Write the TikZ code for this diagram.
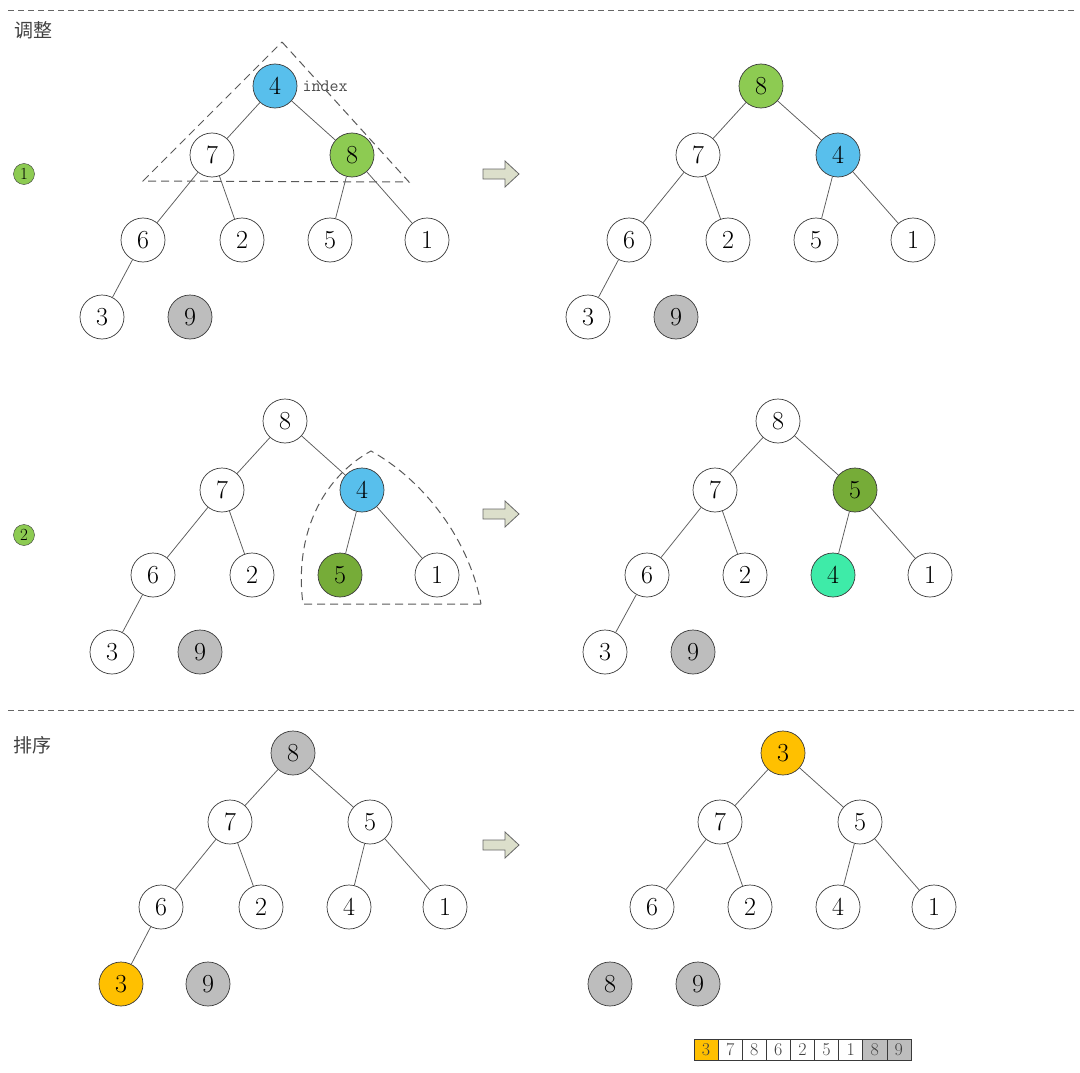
\documentclass[tikz,border=0pt]{standalone}
\usepackage{fontspec}
\newfontfamily\cjk{Noto Sans CJK SC}
\begin{document}
\definecolor{skyb}{HTML}{58BFEC}
\definecolor{lgreen}{HTML}{8DCB52}
\definecolor{dgreen}{HTML}{76AC38}
\definecolor{aqua}{HTML}{3EEBA8}
\definecolor{sgray}{HTML}{BDBDBD}
\definecolor{amber}{HTML}{FFC000}
\definecolor{arrowfill}{HTML}{DCDFCB}
\definecolor{rim}{HTML}{3A3A3A}
\definecolor{linkc}{HTML}{5A5A5A}
\begin{tikzpicture}[x=1pt,y=-1pt,
  nd/.style={circle,draw=rim,line width=0.7pt,fill=white,minimum size=44pt,inner sep=0pt,font=\fontsize{26}{26}\selectfont},
  blue/.style={fill=skyb},
  lg/.style={fill=lgreen},
  dg/.style={fill=dgreen},
  aq/.style={fill=aqua},
  gr/.style={fill=sgray},
  am/.style={fill=amber},
  link/.style={draw=linkc,line width=0.75pt},
  sep/.style={draw=gray!80!black,dashed,dash pattern=on 6pt off 4pt,line width=0.8pt},
  frame/.style={draw=gray!70!black,dash pattern=on 8pt off 5pt,line width=1pt},
  stepmark/.style={circle,draw=rim,fill=lgreen,minimum size=21pt,inner sep=0pt,font=\fontsize{17}{17}\selectfont},
  cjklabel/.style={font=\cjk\fontsize{19}{19}\selectfont,text=black!75},
  cell/.style={draw=rim,line width=0.6pt,minimum width=24.1pt,minimum height=21pt,inner sep=0pt,font=\fontsize{18}{18}\selectfont,text=black!75},
  bigarrow/.style={draw=gray!80!black,fill=arrowfill,line width=0.8pt,line join=miter}
]
\useasboundingbox (0,0) rectangle (1080,1073);

% separators
\draw[sep] (8,10) -- (1075,10);
\draw[sep] (8,710) -- (1075,710);

% labels
\node[cjklabel] (lab1) at (33,30) {调整};
\node[cjklabel] (lab2) at (32,745) {排序};
\node[stepmark] (s1) at (24,174) {1};
\node[stepmark] (s2) at (24,535) {2};

% ---------- step 1, before ----------
\draw[frame] (282,42) -- (409,182) -- (143,181) -- cycle;
\node[nd,blue] (a4) at (275,86) {4};
\node[nd] (a7) at (212,155) {7};
\node[nd,lg] (a8) at (352,155) {8};
\node[nd] (a6) at (143,240) {6};
\node[nd] (a2) at (242,240) {2};
\node[nd] (a5) at (330,240) {5};
\node[nd] (a1) at (427,240) {1};
\node[nd] (a3) at (102,317) {3};
\node[nd,gr] (a9) at (190,317) {9};
\node[anchor=west,font=\ttfamily\fontsize{17.5}{17.5}\selectfont,text=black!70] (idx) at (299,86) {index};
\draw[link] (a4) -- (a7) (a4) -- (a8) (a7) -- (a6) (a7) -- (a2) (a8) -- (a5) (a8) -- (a1) (a6) -- (a3);

% ---------- step 1, after ----------
\node[nd,lg] (b8) at (761,86) {8};
\node[nd] (b7) at (698,155) {7};
\node[nd,blue] (b4) at (838,155) {4};
\node[nd] (b6) at (629,240) {6};
\node[nd] (b2) at (728,240) {2};
\node[nd] (b5) at (816,240) {5};
\node[nd] (b1) at (913,240) {1};
\node[nd] (b3) at (588,317) {3};
\node[nd,gr] (b9) at (676,317) {9};
\draw[link] (b8) -- (b7) (b8) -- (b4) (b7) -- (b6) (b7) -- (b2) (b4) -- (b5) (b4) -- (b1) (b6) -- (b3);

% ---------- step 2, before ----------
\draw[frame] (481,604) -- (303,604) .. controls (294,535) and (322,478) .. (371,451)
  .. controls (420,478) and (468,535) .. (481,604);
\node[nd] (c8) at (285,421) {8};
\node[nd] (c7) at (222,490) {7};
\node[nd,blue] (c4) at (362,490) {4};
\node[nd] (c6) at (153,575) {6};
\node[nd] (c2) at (252,575) {2};
\node[nd,dg] (c5) at (340,575) {5};
\node[nd] (c1) at (437,575) {1};
\node[nd] (c3) at (112,652) {3};
\node[nd,gr] (c9) at (200,652) {9};
\draw[link] (c8) -- (c7) (c8) -- (c4) (c7) -- (c6) (c7) -- (c2) (c4) -- (c5) (c4) -- (c1) (c6) -- (c3);

% ---------- step 2, after ----------
\node[nd] (d8) at (778,421) {8};
\node[nd] (d7) at (715,490) {7};
\node[nd,dg] (d5) at (855,490) {5};
\node[nd] (d6) at (647,575) {6};
\node[nd] (d2) at (745,575) {2};
\node[nd,aq] (d4) at (833,575) {4};
\node[nd] (d1) at (930,575) {1};
\node[nd] (d3) at (605,652) {3};
\node[nd,gr] (d9) at (693,652) {9};
\draw[link] (d8) -- (d7) (d8) -- (d5) (d7) -- (d6) (d7) -- (d2) (d5) -- (d4) (d5) -- (d1) (d6) -- (d3);

% ---------- sorting, before ----------
\node[nd,gr] (e8) at (293,753) {8};
\node[nd] (e7) at (230,822) {7};
\node[nd] (e5) at (370,822) {5};
\node[nd] (e6) at (161,907) {6};
\node[nd] (e2) at (261,907) {2};
\node[nd] (e4) at (349,907) {4};
\node[nd] (e1) at (445,907) {1};
\node[nd,am] (e3) at (121,984) {3};
\node[nd,gr] (e9) at (208,984) {9};
\draw[link] (e8) -- (e7) (e8) -- (e5) (e7) -- (e6) (e7) -- (e2) (e5) -- (e4) (e5) -- (e1) (e6) -- (e3);

% ---------- sorting, after ----------
\node[nd,am] (f3) at (783,753) {3};
\node[nd] (f7) at (720,822) {7};
\node[nd] (f5) at (860,822) {5};
\node[nd] (f6) at (652,907) {6};
\node[nd] (f2) at (750,907) {2};
\node[nd] (f4) at (838,907) {4};
\node[nd] (f1) at (934,907) {1};
\node[nd,gr] (f8) at (610,984) {8};
\node[nd,gr] (f9) at (698,984) {9};
\draw[link] (f3) -- (f7) (f3) -- (f5) (f7) -- (f6) (f7) -- (f2) (f5) -- (f4) (f5) -- (f1);

% block arrows
\foreach \yy in {174,514,845} {
  \draw[bigarrow] (483,\yy-5) -- (505,\yy-5) -- (505,\yy-13) -- (519,\yy) -- (505,\yy+13)
    -- (505,\yy+5) -- (483,\yy+5) -- cycle;
}

% array after the swap
\foreach \v/\f [count=\i] in {3/amber,7/white,8/white,6/white,2/white,5/white,1/white,8/sgray,9/sgray} {
  \node[cell,fill=\f] (arr\i) at ({694+12.05+(\i-1)*24.1},1050) {\v};
}
\end{tikzpicture}
\end{document}
